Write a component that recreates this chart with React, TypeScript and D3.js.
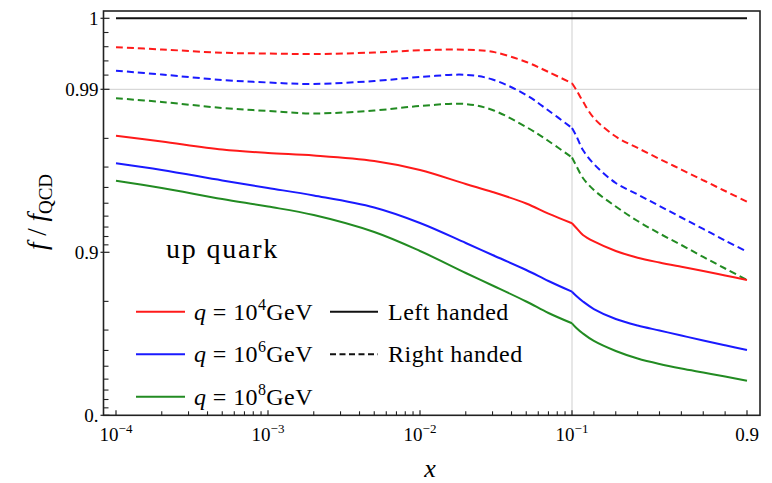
import React from 'react';
import * as d3 from 'd3';

// sample points in x and the ratio f / f_QCD
const xValues = [1e-4, 2e-4, 5e-4, 1e-3, 2e-3, 5e-3, 1e-2, 2e-2, 3e-2, 5e-2, 7e-2, 0.1, 0.12, 0.15, 0.2, 0.3, 0.4, 0.5, 0.6, 0.7, 0.8, 0.9];

const leftHanded = [1, 1, 1, 1, 1, 1, 1, 1, 1, 1, 1, 1, 1, 1, 1, 1, 1, 1, 1, 1, 1, 1];

const rightQ4 = [0.99592, 0.99561, 0.99515, 0.99504, 0.99497, 0.99518, 0.99549, 0.99558, 0.99528, 0.99385, 0.99244, 0.99085, 0.9899, 0.98812, 0.985, 0.98051, 0.97709, 0.97327, 0.96891, 0.96384, 0.95794, 0.95107];
const rightQ6 = [0.99262, 0.99208, 0.99131, 0.99096, 0.99075, 0.99117, 0.99173, 0.99204, 0.99138, 0.98916, 0.98651, 0.98273, 0.98066, 0.97642, 0.97128, 0.96244, 0.95581, 0.948, 0.93884, 0.92806, 0.91535, 0.90085];
const rightQ8 = [0.98865, 0.98804, 0.98698, 0.98642, 0.98593, 0.98651, 0.98734, 0.98769, 0.9866, 0.98297, 0.97924, 0.9738, 0.97045, 0.965, 0.95853, 0.94764, 0.93573, 0.92333, 0.9098, 0.89315, 0.87429, 0.85214];

const leftQ4 = [0.98074, 0.9791, 0.9766, 0.97541, 0.97453, 0.97246, 0.96873, 0.96189, 0.95734, 0.94982, 0.94203, 0.93361, 0.92906, 0.9217, 0.91417, 0.90183, 0.89208, 0.88448, 0.87726, 0.86979, 0.86124, 0.85214];
const leftQ6 = [0.97156, 0.96873, 0.96374, 0.95969, 0.95518, 0.94688, 0.9339, 0.91232, 0.89611, 0.87161, 0.85, 0.82551, 0.81465, 0.79965, 0.7772, 0.74347, 0.71876, 0.69819, 0.67607, 0.65251, 0.62807, 0.60236];
const leftQ8 = [0.96364, 0.95969, 0.9529, 0.94764, 0.94096, 0.92494, 0.90183, 0.86603, 0.84018, 0.79965, 0.76434, 0.72738, 0.70872, 0.68509, 0.65005, 0.59674, 0.55168, 0.51561, 0.48379, 0.45374, 0.4219, 0.38666];

const qLabels = ['4', '6', '8'];
const qColors = ['#ff1a1a', '#1a1aff', '#228b22'];

const yMajor = [1, 0.99, 0.9, 0];
const yMajorLabels = ['1', '0.99', '0.9', '0.'];
const yMinor = [0.992, 0.994, 0.996, 0.998, 0.91, 0.92, 0.93, 0.94, 0.95, 0.96, 0.97, 0.98, 0.1, 0.2, 0.3, 0.4, 0.5, 0.6, 0.7, 0.8];

const xMajor = [1e-4, 1e-3, 1e-2, 0.1, 0.9];
const xMajorExp = ['−4', '−3', '−2', '−1', ''];
const xMinor = [
  ...[2, 3, 4, 5, 6, 7, 8, 9].map(k => k * 1e-4),
  ...[2, 3, 4, 5, 6, 7, 8, 9].map(k => k * 1e-3),
  ...[2, 3, 4, 5, 6, 7, 8, 9].map(k => k * 1e-2),
  0.2, 0.3, 0.4, 0.5, 0.6, 0.7, 0.8,
];

// plot frame
const left = 103.5;
const right = 760;
const top = 11;
const bottom = 415.3;

// x axis: log up to 0.1, linear after
const xTrans = (x: number) => (x <= 0.1 ? Math.log10(x) : -1 + ((x - 0.1) / 0.8) * (175 / 152));
// y axis: -log10(1-f) below 0.99, linear between 0.99 and 1
const yTrans = (f: number) => (f <= 0.99 ? -Math.log10(1 - f) : 2 + ((f - 0.99) / 0.01) * (71 / 163));

const xs = d3.scaleLinear().domain([-4, -1]).range([116, 572]);
const ys = d3.scaleLinear().domain([0, 2]).range([bottom, 89.3]);

const px = (x: number) => xs(xTrans(x));
const py = (f: number) => ys(yTrans(f));

const serif = 'Liberation Serif, DejaVu Serif, serif';
const kink = xValues.indexOf(0.1);

const App = () => {
  const line = d3
    .line<[number, number]>()
    .x(d => px(d[0]))
    .y(d => py(d[1]))
    .curve(d3.curveCatmullRom.alpha(0.5));

  // the curves have a kink at x = 0.1, so each is drawn in two smooth pieces
  const path = (s: number[]) => {
    const pts = s.map((v, i) => [xValues[i], v] as [number, number]);
    return (line(pts.slice(0, kink + 1)) || '') + (line(pts.slice(kink)) || '');
  };

  const solid = [leftQ4, leftQ6, leftQ8];
  const dashed = [rightQ4, rightQ6, rightQ8];

  return (
    <svg width={772} height={483} style={{ position: 'absolute', left: 0, top: 0, background: '#fff' }}>
      {/* grid */}
      <line x1={px(0.1)} x2={px(0.1)} y1={top} y2={bottom} stroke="#cfcfcf" strokeWidth={1} />
      <line x1={left} x2={right} y1={py(0.99)} y2={py(0.99)} stroke="#cfcfcf" strokeWidth={1} />

      {/* curves */}
      <path d={path(leftHanded)} fill="none" stroke="#111" strokeWidth={2} />
      {dashed.map((s, i) => (
        <path key={'d' + i} d={path(s)} fill="none" stroke={qColors[i]} strokeWidth={2} strokeDasharray="7,4" />
      ))}
      {solid.map((s, i) => (
        <path key={'s' + i} d={path(s)} fill="none" stroke={qColors[i]} strokeWidth={2} />
      ))}

      {/* frame */}
      <rect x={left} y={top} width={right - left} height={bottom - top} fill="none" stroke="#222" strokeWidth={1.6} />

      {/* y ticks */}
      {yMajor.map((v, i) => (
        <g key={'ym' + i}>
          <line x1={left - 3} x2={left + 6} y1={py(v)} y2={py(v)} stroke="#222" strokeWidth={1.2} />
          <text x={left - 5} y={py(v)} dy="0.35em" textAnchor="end" fontFamily={serif} fontSize={19}>
            {yMajorLabels[i]}
          </text>
        </g>
      ))}
      {yMinor.map((v, i) => (
        <line key={'yn' + i} x1={left} x2={left + 5} y1={py(v)} y2={py(v)} stroke="#222" strokeWidth={1.1} />
      ))}

      {/* x ticks */}
      {xMajor.map((v, i) => (
        <g key={'xm' + i}>
          <line x1={px(v)} x2={px(v)} y1={bottom} y2={bottom - 5} stroke="#222" strokeWidth={1.2} />
          <text x={px(v)} y={441} textAnchor="middle" fontFamily={serif} fontSize={19}>
            {xMajorExp[i] ? (
              <>
                <tspan>10</tspan>
                <tspan dy={-8} fontSize={13}>{xMajorExp[i]}</tspan>
              </>
            ) : (
              '0.9'
            )}
          </text>
        </g>
      ))}
      {xMinor.map((v, i) => (
        <line key={'xn' + i} x1={px(v)} x2={px(v)} y1={bottom} y2={bottom - 4} stroke="#222" strokeWidth={1.1} />
      ))}

      {/* axis titles */}
      <text x={430} y={477} textAnchor="middle" fontFamily={serif} fontStyle="italic" fontSize={26}>
        x
      </text>
      <text transform="translate(46,212) rotate(-90)" textAnchor="middle" fontFamily={serif} fontSize={27}>
        <tspan fontStyle="italic">f</tspan>
        <tspan> / </tspan>
        <tspan fontStyle="italic">f</tspan>
        <tspan dy={6} fontSize={19}>QCD</tspan>
      </text>

      <text x={166} y={258} fontFamily={serif} fontSize={28} letterSpacing={1.8}>
        up quark
      </text>

      {/* legend */}
      {qLabels.map((q, i) => {
        const yy = 311.7 + i * 42.5;
        return (
          <g key={'lg' + i}>
            <line x1={136} x2={185} y1={yy} y2={yy} stroke={qColors[i]} strokeWidth={2} />
            <text x={194} y={yy + 7.8} fontFamily={serif} fontSize={24} letterSpacing={0.4}>
              <tspan fontStyle="italic">q</tspan>
              <tspan> = 10</tspan>
              <tspan dy={-10} fontSize={16}>{q}</tspan>
              <tspan dy={10}>GeV</tspan>
            </text>
          </g>
        );
      })}
      <line x1={330} x2={378} y1={311.7} y2={311.7} stroke="#111" strokeWidth={2} />
      <text x={388} y={319.5} fontFamily={serif} fontSize={24} letterSpacing={0.5}>
        Left handed
      </text>
      <line x1={330} x2={378} y1={354.2} y2={354.2} stroke="#111" strokeWidth={2} strokeDasharray="6,3.5" />
      <text x={388} y={362} fontFamily={serif} fontSize={24} letterSpacing={0.5}>
        Right handed
      </text>
    </svg>
  );
};

export default App;
